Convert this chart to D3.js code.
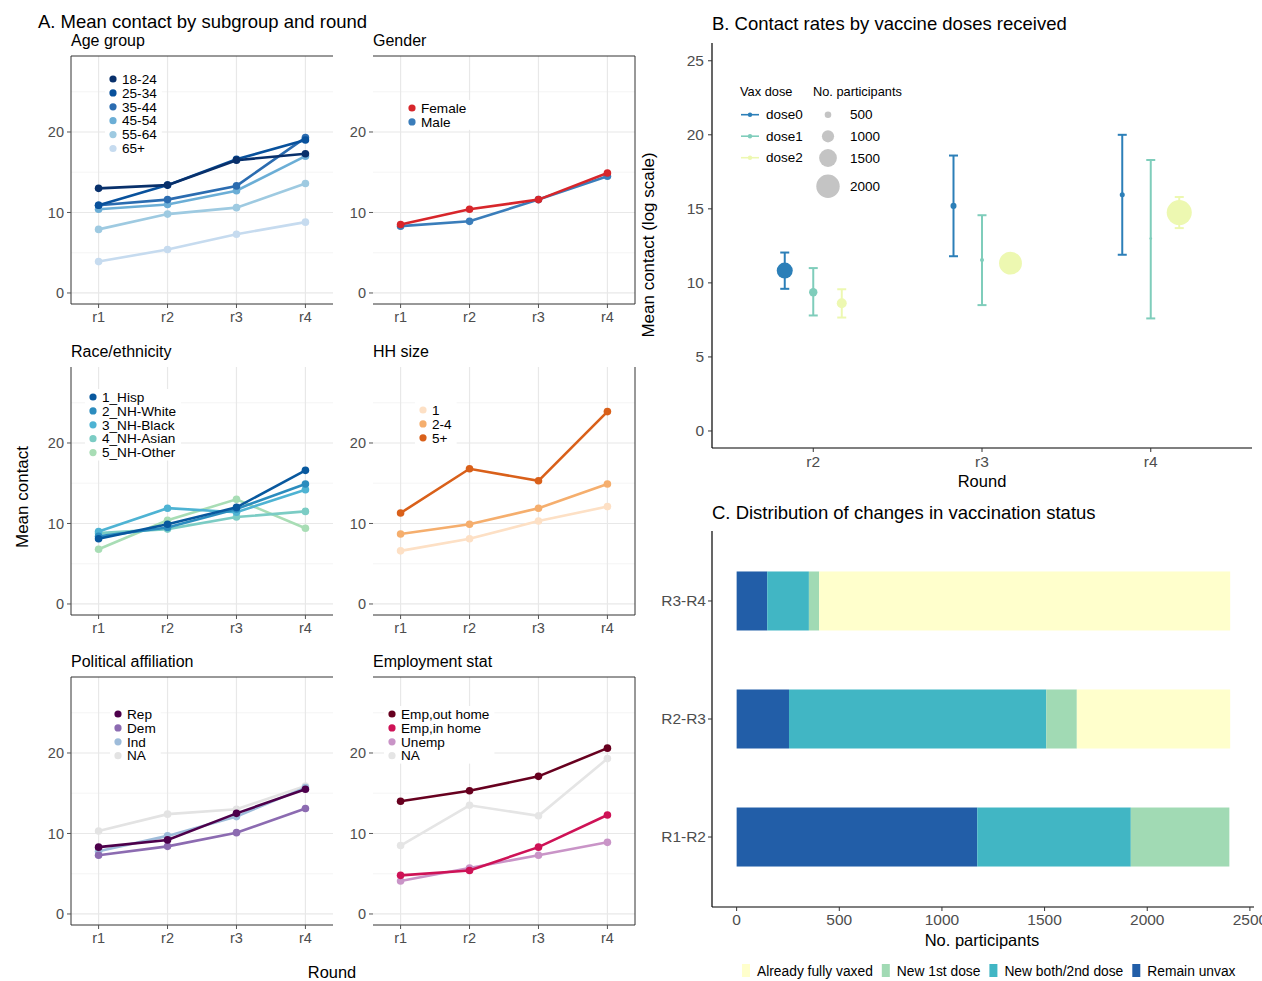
<!DOCTYPE html>
<html lang="en">
<head>
<meta charset="UTF-8">
<title>Contact rates by subgroup and vaccination</title>
<style>
  body { margin: 0; background: #fff; }
  svg { display: block; font-family: "Liberation Sans", Arial, sans-serif; }
</style>
</head>
<body>
<svg id="chart" width="1262" height="981"></svg>
<script src="https://d3js.org/d3.v7.min.js"></script>
<script>
// ---- Panel A data ----
const rounds = ["r1", "r2", "r3", "r4"];

const ageGroups = ["18-24", "25-34", "35-44", "45-54", "55-64", "65+"];
const ageValues = [
  [13.0, 13.4, 16.5, 17.3],
  [10.9, 13.4, 16.6, 19.0],
  [10.9, 11.6, 13.3, 19.3],
  [10.4, 11.0, 12.7, 17.0],
  [7.9, 9.8, 10.6, 13.6],
  [3.9, 5.4, 7.3, 8.8]
];
const ageColors = ["#08306b", "#08519c", "#2b6cb0", "#6baed6", "#9ecae1", "#c6dbef"];

const genderGroups = ["Female", "Male"];
const genderValues = [
  [8.5, 10.4, 11.6, 14.9],
  [8.3, 8.9, 11.6, 14.5]
];
const genderColors = ["#d7262b", "#3a7dba"];

const raceGroups = ["1_Hisp", "2_NH-White", "3_NH-Black", "4_NH-Asian", "5_NH-Other"];
const raceValues = [
  [8.1, 9.9, 12.0, 16.6],
  [8.4, 9.5, 11.8, 14.9],
  [9.0, 11.9, 11.4, 14.2],
  [8.8, 9.3, 10.8, 11.5],
  [6.8, 10.4, 13.0, 9.4]
];
const raceColors = ["#08589e", "#2b8cbe", "#4eb3d3", "#7bccc4", "#a8ddb5"];

const hhGroups = ["1", "2-4", "5+"];
const hhValues = [
  [6.6, 8.1, 10.3, 12.1],
  [8.7, 9.9, 11.9, 14.9],
  [11.3, 16.8, 15.3, 23.9]
];
const hhColors = ["#fde0c5", "#f5ae6d", "#d9601a"];

const polGroups = ["Rep", "Dem", "Ind", "NA"];
const polValues = [
  [8.3, 9.2, 12.5, 15.5],
  [7.3, 8.4, 10.1, 13.1],
  [7.8, 9.7, 12.1, 15.7],
  [10.3, 12.4, 13.0, 15.9]
];
const polColors = ["#4d004b", "#8c6bb1", "#9ebcda", "#e3e3e3"];

const empGroups = ["Emp,out home", "Emp,in home", "Unemp", "NA"];
const empValues = [
  [14.0, 15.3, 17.1, 20.6],
  [4.8, 5.4, 8.3, 12.3],
  [4.1, 5.7, 7.3, 8.9],
  [8.5, 13.5, 12.2, 19.3]
];
const empColors = ["#67001f", "#ce1256", "#c994c7", "#e5e5e5"];

const contactTicks = [0, 10, 20];

// ---- Panel B data ----
const vaxRounds = ["r2", "r3", "r4"];
const doses = ["dose0", "dose1", "dose2"];
const doseColors = ["#2c7fb8", "#7fcdbb", "#edf8b1"];
// rows = round, columns = dose
const doseMean = [[10.83, 9.37, 8.63], [15.2, 11.55, 11.33], [15.95, 13.0, 14.75]];
const doseLow  = [[9.6, 7.8, 7.66], [11.8, 8.5, 10.9], [11.9, 7.6, 13.7]];
const doseHigh = [[12.05, 11.0, 9.57], [18.6, 14.57, 11.8], [20.0, 18.3, 15.8]];
const doseN    = [[1340, 660, 800], [450, 270, 1950], [360, 150, 2150]];
const sizeLegend = [500, 1000, 1500, 2000];
const doseTicks = [0, 5, 10, 15, 20, 25];

// ---- Panel C data ----
const transitions = ["R3-R4", "R2-R3", "R1-R2"];
const statusKeys = ["Remain unvax", "New both/2nd dose", "New 1st dose", "Already fully vaxed"];
const remainUnvax = [149, 255, 1172];
const newBoth = [203, 1253, 748];
const newFirst = [50, 149, 480];
const alreadyFull = [2002, 747, 0];
const statusColors = ["#225ea8", "#41b6c4", "#a1dab4", "#ffffcc"];
const countTicks = [0, 500, 1000, 1500, 2000, 2500];

const svg = d3.select("#chart");
const tickColor = "#4d4d4d";

// ================= Panel A =================
svg.append("text").attr("x", 38).attr("y", 28)
  .attr("font-size", "18.5px").text("A. Mean contact by subgroup and round");

const pw = 262, ph = 248;
const colX = [71, 373];
const rowY = [56, 367, 677];

const xA = d3.scalePoint().domain(rounds).range([0, pw]).padding(0.4);
const yA = d3.scaleLinear().domain([-1.37, 29.44]).range([ph, 0]);

const panels = [
  { title: "Age group", groups: ageGroups, values: ageValues, colors: ageColors, col: 0, row: 0, leg: [42, 23], sides: ["left", "top"] },
  { title: "Gender", groups: genderGroups, values: genderValues, colors: genderColors, col: 1, row: 0, leg: [39, 52], sides: ["top", "right"] },
  { title: "Race/ethnicity", groups: raceGroups, values: raceValues, colors: raceColors, col: 0, row: 1, leg: [22, 30], sides: ["left"] },
  { title: "HH size", groups: hhGroups, values: hhValues, colors: hhColors, col: 1, row: 1, leg: [50, 43], sides: ["right"] },
  { title: "Political affiliation", groups: polGroups, values: polValues, colors: polColors, col: 0, row: 2, leg: [47, 37], sides: ["left", "top"] },
  { title: "Employment stat", groups: empGroups, values: empValues, colors: empColors, col: 1, row: 2, leg: [19, 37], sides: ["top", "right"] }
];

panels.forEach(p => {
  const g = svg.append("g").attr("transform", `translate(${colX[p.col]},${rowY[p.row]})`);

  g.append("text").attr("x", 0).attr("y", -10)
    .attr("font-size", "16px").text(p.title);

  // grid
  g.append("g").selectAll("line.minor")
    .data([5, 15, 25]).join("line")
    .attr("x1", 0).attr("x2", pw)
    .attr("y1", d => yA(d)).attr("y2", d => yA(d))
    .attr("stroke", "#f2f2f2").attr("stroke-width", 0.8);
  g.append("g").selectAll("line.major")
    .data(contactTicks).join("line")
    .attr("x1", 0).attr("x2", pw)
    .attr("y1", d => yA(d)).attr("y2", d => yA(d))
    .attr("stroke", "#e8e8e8").attr("stroke-width", 1.2);
  g.append("g").selectAll("line.vert")
    .data(rounds).join("line")
    .attr("x1", d => xA(d)).attr("x2", d => xA(d))
    .attr("y1", 0).attr("y2", ph)
    .attr("stroke", "#e8e8e8").attr("stroke-width", 1.2);

  // borders
  const edges = { left: [0, 0, 0, ph], top: [0, 0, pw, 0], right: [pw, 0, pw, ph] };
  g.append("line").attr("x1", 0).attr("x2", pw).attr("y1", ph).attr("y2", ph)
    .attr("stroke", "#333").attr("stroke-width", 1);
  p.sides.forEach(s => {
    const e = edges[s];
    g.append("line").attr("x1", e[0]).attr("y1", e[1]).attr("x2", e[2]).attr("y2", e[3])
      .attr("stroke", "#333").attr("stroke-width", 1);
  });

  // y ticks
  const yt = g.append("g").selectAll("g").data(contactTicks).join("g")
    .attr("transform", d => `translate(0,${yA(d)})`);
  yt.append("line").attr("x1", -4).attr("x2", 0).attr("stroke", "#555");
  yt.append("text").attr("x", -7).attr("dy", "0.35em").attr("text-anchor", "end")
    .attr("font-size", "14.5px").attr("fill", tickColor).text(d => d);

  // x ticks
  const xt = g.append("g").selectAll("g").data(rounds).join("g")
    .attr("transform", d => `translate(${xA(d)},${ph})`);
  xt.append("line").attr("y1", 0).attr("y2", 4).attr("stroke", "#555");
  xt.append("text").attr("y", 13).attr("dy", "0.35em").attr("text-anchor", "middle")
    .attr("font-size", "14.5px").attr("fill", tickColor).text(d => d);

  // lines (draw lighter ones first so darker sit on top)
  const line = d3.line().x((d, i) => xA(rounds[i])).y(d => yA(d));
  const order = d3.range(p.groups.length).reverse();
  order.forEach(i => {
    g.append("path").datum(p.values[i])
      .attr("d", line).attr("fill", "none")
      .attr("stroke", p.colors[i]).attr("stroke-width", 2.6);
    g.append("g").selectAll("circle").data(p.values[i]).join("circle")
      .attr("cx", (d, j) => xA(rounds[j])).attr("cy", d => yA(d))
      .attr("r", 3.8).attr("fill", p.colors[i]);
  });

  // legend
  const lg = g.append("g").attr("transform", `translate(${p.leg[0]},${p.leg[1]})`);
  const rowH = 13.9;
  const bg = lg.append("rect").attr("x", -8).attr("y", -8)
    .attr("height", p.groups.length * rowH + 2).attr("fill", "#fff");
  const items = lg.selectAll("g").data(p.groups).join("g")
    .attr("transform", (d, i) => `translate(0,${i * rowH})`);
  items.append("circle").attr("r", 3.6).attr("fill", (d, i) => p.colors[i]);
  items.append("text").attr("x", 9).attr("dy", "0.35em")
    .attr("font-size", "13.6px").text(d => d);
  let maxW = 0;
  items.selectAll("text").each(function () { maxW = Math.max(maxW, this.getComputedTextLength()); });
  bg.attr("width", maxW + 22);
});

svg.append("text").attr("transform", "translate(28,497) rotate(-90)")
  .attr("text-anchor", "middle").attr("font-size", "17px").text("Mean contact");
svg.append("text").attr("x", 332).attr("y", 978)
  .attr("text-anchor", "middle").attr("font-size", "16.4px").text("Round");

// ================= Panel B =================
svg.append("text").attr("x", 712).attr("y", 30)
  .attr("font-size", "18.5px").text("B. Contact rates by vaccine doses received");

const xB = d3.scalePoint().domain(vaxRounds).range([712, 1252]).padding(0.6);
const dodge = d3.scalePoint().domain(doses).range([-28.5, 28.5]);
const yB = d3.scaleLinear().domain([-1.15, 26.2]).range([448, 43]);
const rB = d3.scaleLinear().domain([500, 2000]).range([3.3, 11.7]);

const gB = svg.append("g");
gB.append("line").attr("x1", 712).attr("x2", 712).attr("y1", 43).attr("y2", 448)
  .attr("stroke", "#000").attr("stroke-width", 1.2);
gB.append("line").attr("x1", 712).attr("x2", 1252).attr("y1", 448).attr("y2", 448)
  .attr("stroke", "#000").attr("stroke-width", 1.2);

const ytB = gB.append("g").selectAll("g").data(doseTicks).join("g")
  .attr("transform", d => `translate(712,${yB(d)})`);
ytB.append("line").attr("x1", -4).attr("x2", 0).attr("stroke", "#333");
ytB.append("text").attr("x", -8).attr("dy", "0.35em").attr("text-anchor", "end")
  .attr("font-size", "15.5px").attr("fill", tickColor).text(d => d);

const xtB = gB.append("g").selectAll("g").data(vaxRounds).join("g")
  .attr("transform", d => `translate(${xB(d)},448)`);
xtB.append("line").attr("y1", 0).attr("y2", 4).attr("stroke", "#333");
xtB.append("text").attr("y", 14).attr("dy", "0.35em").attr("text-anchor", "middle")
  .attr("font-size", "15.5px").attr("fill", tickColor).text(d => d);

svg.append("text").attr("x", 982).attr("y", 487).attr("text-anchor", "middle")
  .attr("font-size", "16.5px").text("Round");
svg.append("text").attr("transform", "translate(654,245) rotate(-90)")
  .attr("text-anchor", "middle").attr("font-size", "17px").text("Mean contact (log scale)");

const pointsB = [];
vaxRounds.forEach((r, i) => doses.forEach((d, j) => pointsB.push({
  round: r, dose: d, color: doseColors[j],
  mean: doseMean[i][j], low: doseLow[i][j], high: doseHigh[i][j], n: doseN[i][j]
})));

const pb = gB.append("g").selectAll("g").data(pointsB).join("g")
  .attr("transform", d => `translate(${xB(d.round) + dodge(d.dose)},0)`);
pb.append("line").attr("y1", d => yB(d.low)).attr("y2", d => yB(d.high))
  .attr("stroke", d => d.color).attr("stroke-width", 2);
pb.append("line").attr("x1", -4.5).attr("x2", 4.5)
  .attr("y1", d => yB(d.low)).attr("y2", d => yB(d.low))
  .attr("stroke", d => d.color).attr("stroke-width", 2);
pb.append("line").attr("x1", -4.5).attr("x2", 4.5)
  .attr("y1", d => yB(d.high)).attr("y2", d => yB(d.high))
  .attr("stroke", d => d.color).attr("stroke-width", 2);
pb.append("circle").attr("cy", d => yB(d.mean))
  .attr("r", d => Math.max(1.3, rB(d.n))).attr("fill", d => d.color);

// legends
const lgB = svg.append("g");
lgB.append("text").attr("x", 740).attr("y", 96).attr("font-size", "12.8px").text("Vax dose");
const doseItems = lgB.selectAll("g.dose").data(doses).join("g")
  .attr("transform", (d, i) => `translate(741,${114.7 + i * 21.5})`);
doseItems.append("line").attr("x1", 0).attr("x2", 18)
  .attr("stroke", (d, i) => doseColors[i]).attr("stroke-width", 1.6);
doseItems.append("circle").attr("cx", 9).attr("r", 2.2).attr("fill", (d, i) => doseColors[i]);
doseItems.append("text").attr("x", 25).attr("dy", "0.35em")
  .attr("font-size", "13.5px").text(d => d);

lgB.append("text").attr("x", 813).attr("y", 96).attr("font-size", "12.8px").text("No. participants");
const sizeY = [114.7, 136.3, 158, 186.3];
const sizeItems = lgB.selectAll("g.size").data(sizeLegend).join("g")
  .attr("transform", (d, i) => `translate(828,${sizeY[i]})`);
sizeItems.append("circle").attr("r", d => rB(d)).attr("fill", "#c4c4c4");
sizeItems.append("text").attr("x", 22).attr("dy", "0.35em")
  .attr("font-size", "13.5px").text(d => d);

// ================= Panel C =================
svg.append("text").attr("x", 712).attr("y", 519)
  .attr("font-size", "18.5px").text("C. Distribution of changes in vaccination status");

const xC = d3.scaleLinear().domain([-120, 2520]).range([712, 1254]);
const yC = d3.scaleBand().domain(transitions).range([531, 907])
  .paddingInner(0.5).paddingOuter(0.343);

const tableC = transitions.map((t, i) => ({
  transition: t,
  "Remain unvax": remainUnvax[i],
  "New both/2nd dose": newBoth[i],
  "New 1st dose": newFirst[i],
  "Already fully vaxed": alreadyFull[i]
}));
const stackC = d3.stack().keys(statusKeys)(tableC);

const gC = svg.append("g");
gC.selectAll("g.layer").data(stackC).join("g")
  .attr("fill", (d, i) => statusColors[i])
  .selectAll("rect").data(d => d).join("rect")
  .attr("x", d => xC(d[0])).attr("width", d => xC(d[1]) - xC(d[0]))
  .attr("y", d => yC(d.data.transition)).attr("height", yC.bandwidth());

gC.append("line").attr("x1", 712).attr("x2", 712).attr("y1", 531).attr("y2", 907)
  .attr("stroke", "#000").attr("stroke-width", 1.2);
gC.append("line").attr("x1", 712).attr("x2", 1254).attr("y1", 907).attr("y2", 907)
  .attr("stroke", "#000").attr("stroke-width", 1.2);

const ytC = gC.append("g").selectAll("g").data(transitions).join("g")
  .attr("transform", d => `translate(712,${yC(d) + yC.bandwidth() / 2})`);
ytC.append("line").attr("x1", -4).attr("x2", 0).attr("stroke", "#333");
ytC.append("text").attr("x", -6).attr("dy", "0.35em").attr("text-anchor", "end")
  .attr("font-size", "15.5px").attr("fill", tickColor).text(d => d);

const xtC = gC.append("g").selectAll("g").data(countTicks).join("g")
  .attr("transform", d => `translate(${xC(d)},907)`);
xtC.append("line").attr("y1", 0).attr("y2", 4).attr("stroke", "#333");
xtC.append("text").attr("y", 13).attr("dy", "0.35em").attr("text-anchor", "middle")
  .attr("font-size", "15.5px").attr("fill", tickColor).text(d => d);

svg.append("text").attr("x", 982).attr("y", 946).attr("text-anchor", "middle")
  .attr("font-size", "16.5px").text("No. participants");

// bottom legend, reverse stack order
const legC = svg.append("g").attr("transform", "translate(742,971)");
let lx = 0;
statusKeys.slice().reverse().forEach(k => {
  const i = statusKeys.indexOf(k);
  legC.append("rect").attr("x", lx).attr("y", -7).attr("width", 8).attr("height", 13)
    .attr("fill", statusColors[i]);
  const t = legC.append("text").attr("x", lx + 15).attr("dy", "0.35em")
    .attr("font-size", "13.8px").text(k);
  lx += 15 + t.node().getComputedTextLength() + 9;
});
</script>
</body>
</html>
